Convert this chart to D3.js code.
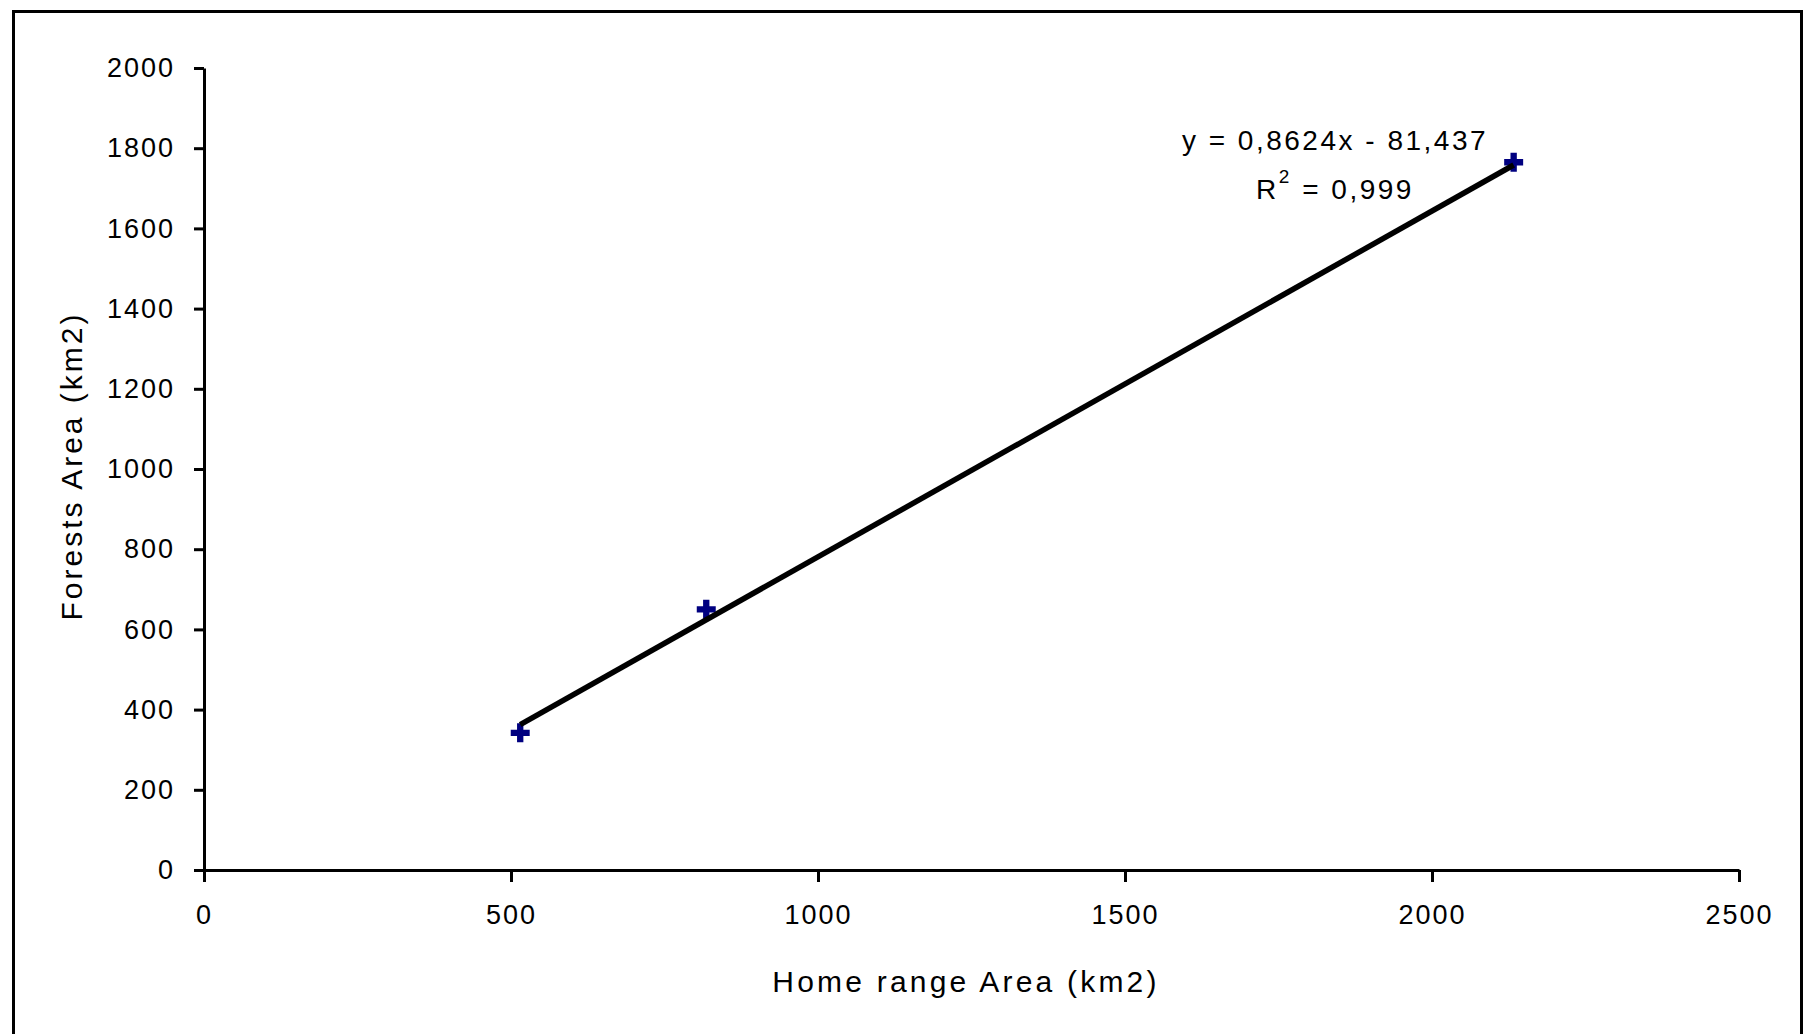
<!DOCTYPE html>
<html lang="en">

<head>
    <meta charset="UTF-8">
    <title>Forests Area vs Home range Area</title>
    <script src="https://d3js.org/d3.v7.min.js"></script>
    <style>
        body {
            margin: 0;
            background-color: #ffffff;
            font-family: "Liberation Sans", Arial, sans-serif;
        }

        .axis path,
        .axis line {
            stroke: #000;
            stroke-width: 3px;
        }

        .axis text {
            font-size: 27px;
            fill: #000;
            letter-spacing: 2px;
        }

        .title {
            font-size: 30px;
            fill: #000;
        }
    </style>
</head>

<body>
    <svg id="chart" width="1808" height="1034"></svg>

    <script>
        // data
        const homeRange = [515, 818, 2133];
        const forests = [342, 650, 1765];
        const xTicks = [0, 500, 1000, 1500, 2000, 2500];
        const yTicks = [0, 200, 400, 600, 800, 1000, 1200, 1400, 1600, 1800, 2000];
        const trendSlope = 0.8624;
        const trendIntercept = -81.437;
        const equationText = "y = 0,8624x - 81,437";
        const r2Text = "= 0,999";

        const svg = d3.select("#chart");

        // outer frame (bottom edge runs off the picture)
        svg.append("rect")
            .attr("x", 13.5)
            .attr("y", 11.5)
            .attr("width", 1788)
            .attr("height", 1100)
            .attr("fill", "#fff")
            .attr("stroke", "#000")
            .attr("stroke-width", 3);

        const x = d3.scaleLinear().domain([0, 2500]).range([204, 1739]);
        const y = d3.scaleLinear().domain([0, 2000]).range([870, 68]);

        // x axis
        svg.append("g")
            .attr("class", "axis")
            .attr("transform", "translate(0,870)")
            .call(d3.axisBottom(x).tickValues(xTicks).tickSize(12).tickSizeOuter(0).tickPadding(23).tickFormat(d3.format("d")));

        // y axis
        svg.append("g")
            .attr("class", "axis")
            .attr("transform", "translate(204,0)")
            .call(d3.axisLeft(y).tickValues(yTicks).tickSize(10).tickSizeOuter(0).tickPadding(19).tickFormat(d3.format("d")));

        // axis titles
        svg.append("text")
            .attr("class", "title")
            .attr("x", 966)
            .attr("y", 992)
            .attr("text-anchor", "middle")
            .style("letter-spacing", "3.2px")
            .text("Home range Area (km2)");

        svg.append("text")
            .attr("class", "title")
            .attr("transform", "translate(82,466) rotate(-90)")
            .attr("text-anchor", "middle")
            .style("letter-spacing", "3px")
            .text("Forests Area (km2)");

        // data points
        const points = homeRange.map((v, i) => ({ x: v, y: forests[i] }));
        svg.append("g")
            .selectAll("path")
            .data(points)
            .enter().append("path")
            .attr("transform", d => `translate(${x(d.x)},${y(d.y)})`)
            .attr("d", d3.symbol(d3.symbolCross).size(200))
            .attr("fill", "#000080");

        // linear trendline over the data range
        const xMin = d3.min(homeRange);
        const xMax = d3.max(homeRange);
        const trend = [xMin, xMax].map(v => ({ x: v, y: trendSlope * v + trendIntercept }));
        svg.append("path")
            .datum(trend)
            .attr("fill", "none")
            .attr("stroke", "#000")
            .attr("stroke-width", 5.5)
            .attr("d", d3.line().x(d => x(d.x)).y(d => y(d.y)));

        // equation label
        const label = svg.append("g").attr("font-size", 28).attr("fill", "#000");
        label.append("text")
            .attr("x", 1335)
            .attr("y", 150)
            .attr("text-anchor", "middle")
            .style("letter-spacing", "2.5px")
            .text(equationText);

        const r2 = label.append("text")
            .attr("x", 1335)
            .attr("y", 199)
            .attr("text-anchor", "middle")
            .style("letter-spacing", "2.5px");
        r2.append("tspan").text("R");
        r2.append("tspan").attr("dy", -16).attr("font-size", 19).text("2");
        r2.append("tspan").attr("dy", 16).text(" " + r2Text);
    </script>
</body>

</html>
